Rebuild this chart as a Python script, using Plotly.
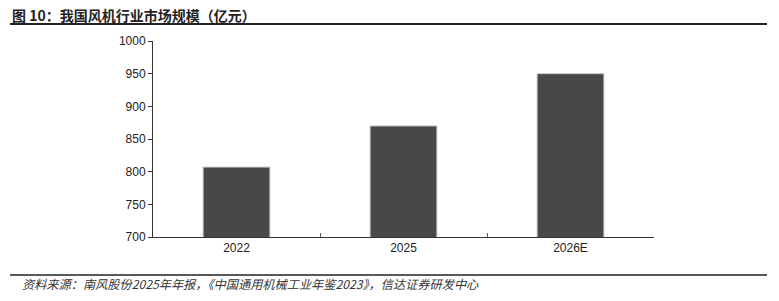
import plotly.graph_objects as go

# 我国风机行业市场规模（亿元）
years = ["2022", "2025", "2026E"]
market_size = [807, 870, 950]
y_ticks = [700, 750, 800, 850, 900, 950, 1000]

title_text = "图 10：我国风机行业市场规模（亿元）"
source_text = "资料来源：南风股份2025年年报，《中国通用机械工业年鉴2023》，信达证券研发中心"

fig = go.Figure()
fig.add_trace(go.Bar(
    x=years,
    y=market_size,
    width=0.4,
    marker=dict(color="#484848", line=dict(color="#c8c8c8", width=1)),
))

fig.update_layout(
    width=779,
    height=301,
    margin=dict(l=153, r=125, t=41, b=64),
    paper_bgcolor="white",
    plot_bgcolor="white",
    showlegend=False,
    font=dict(family="Liberation Sans, Arial, sans-serif", size=12, color="#222222"),
    xaxis=dict(
        showline=True, linecolor="#333333", linewidth=1,
        ticks="inside", ticklen=4, tickcolor="#555555",
        tickson="boundaries", showgrid=False,
        tickfont=dict(size=12, color="#222222"),
    ),
    yaxis=dict(
        range=[700, 1000], tickvals=y_ticks,
        showline=True, linecolor="#333333", linewidth=1,
        ticks="outside", ticklen=4, tickcolor="#333333",
        showgrid=False, zeroline=False,
        tickfont=dict(size=12, color="#222222"),
    ),
    shapes=[
        dict(type="line", xref="paper", yref="paper",
             x0=-143 / 501, x1=614 / 501, y0=1 + 17 / 196.5, y1=1 + 17 / 196.5,
             line=dict(color="#222222", width=2)),
        dict(type="line", xref="paper", yref="paper",
             x0=-143 / 501, x1=614 / 501, y0=-38 / 196.5, y1=-38 / 196.5,
             line=dict(color="#222222", width=1.5)),
    ],
    annotations=[
        dict(text="<b>" + title_text + "</b>", xref="paper", yref="paper",
             x=-143 / 501, y=1 + 26 / 196.5, xanchor="left", yanchor="middle",
             showarrow=False,
             font=dict(family="Noto Sans CJK SC", size=14, color="#222222")),
        dict(text="<i>" + source_text + "</i>", xref="paper", yref="paper",
             x=-133 / 501, y=-47 / 196.5, xanchor="left", yanchor="middle",
             showarrow=False,
             font=dict(family="Noto Sans CJK SC", size=12.2, color="#333333")),
    ],
)

fig.write_html("out.html")
